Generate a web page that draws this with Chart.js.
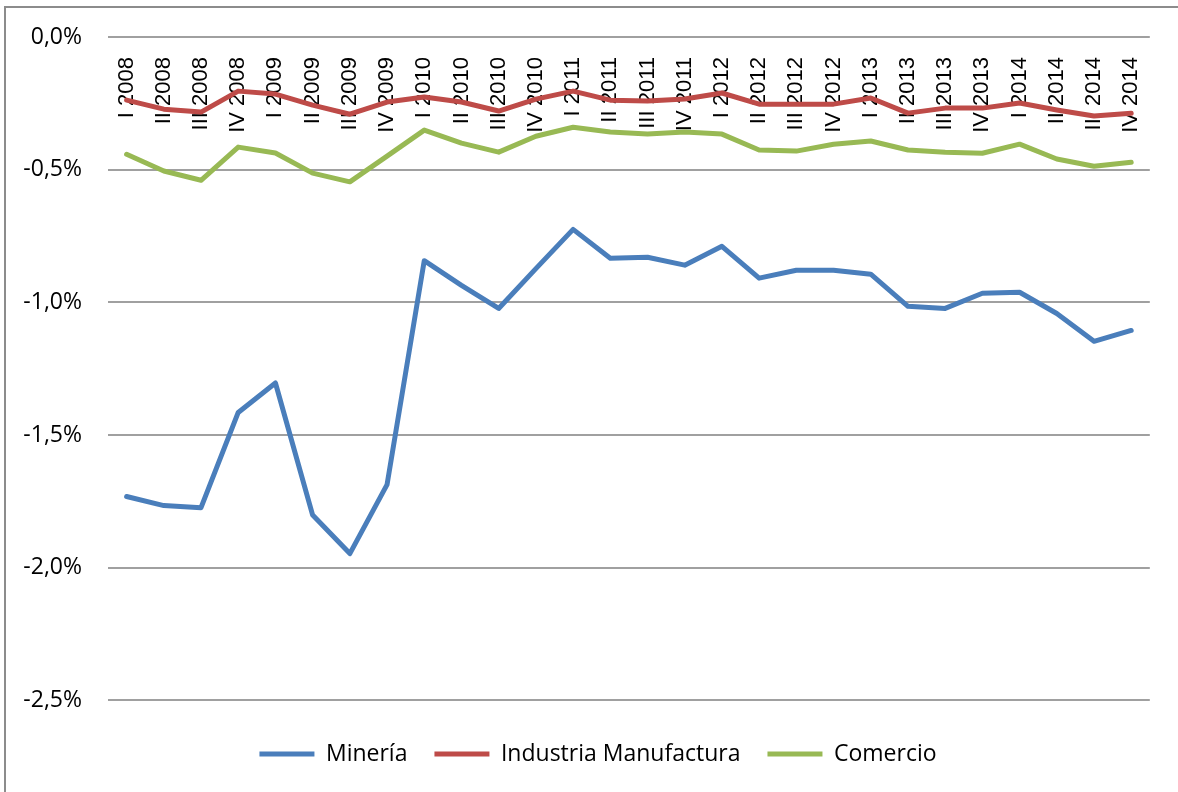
<!DOCTYPE html>
<html>
<head>
<meta charset="utf-8">
<script src="https://cdn.jsdelivr.net/npm/chart.js@4/dist/chart.umd.min.js"></script>
<style>
  html, body { margin: 0; padding: 0; background: #fff; }
  #wrap { width: 1178px; height: 792px; }
</style>
</head>
<body>
<div id="wrap"><canvas id="grafico"></canvas></div>
<script>
// Trimestres
const categorias = [
  "I 2008", "II 2008", "III 2008", "IV 2008",
  "I 2009", "II 2009", "III 2009", "IV 2009",
  "I 2010", "II 2010", "III 2010", "IV 2010",
  "I 2011", "II 2011", "III 2011", "IV 2011",
  "I 2012", "II 2012", "III 2012", "IV 2012",
  "I 2013", "II 2013", "III 2013", "IV 2013",
  "I 2014", "II 2014", "III 2014", "IV 2014"
];

// Series (%)
const mineria = [
  -1.732, -1.766, -1.774, -1.415, -1.304, -1.802, -1.947, -1.687,
  -0.843, -0.936, -1.023, -0.873, -0.725, -0.834, -0.830, -0.860,
  -0.789, -0.909, -0.879, -0.879, -0.894, -1.015, -1.023, -0.966,
  -0.962, -1.042, -1.147, -1.106
];
const industria = [
  -0.238, -0.272, -0.283, -0.204, -0.215, -0.257, -0.291, -0.245,
  -0.226, -0.245, -0.279, -0.234, -0.204, -0.238, -0.241, -0.234,
  -0.211, -0.253, -0.253, -0.253, -0.230, -0.287, -0.268, -0.268,
  -0.249, -0.275, -0.298, -0.287
];
const comercio = [
  -0.442, -0.505, -0.540, -0.415, -0.437, -0.513, -0.546, -0.449,
  -0.351, -0.400, -0.434, -0.374, -0.340, -0.358, -0.366, -0.358,
  -0.366, -0.426, -0.430, -0.404, -0.392, -0.426, -0.434, -0.438,
  -0.404, -0.460, -0.487, -0.472
];

// Marcas del eje Y
const ticksY = [0, -0.5, -1.0, -1.5, -2.0, -2.5];

Chart.defaults.color = "#000";

// Borde exterior del gráfico (solo lados superior e izquierdo visibles)
const bordeExterior = {
  id: "bordeExterior",
  beforeDraw(chart) {
    const ctx = chart.ctx;
    ctx.save();
    ctx.strokeStyle = "#8c8c8c";
    ctx.lineWidth = 2;
    ctx.beginPath();
    ctx.moveTo(5, 792);
    ctx.lineTo(5, 7);
    ctx.lineTo(1178, 7);
    ctx.stroke();
    ctx.restore();
  },
};

const serie = (label, data, color) => ({
  label: label,
  data: data,
  borderColor: color,
  backgroundColor: color,
  borderWidth: 5,
  borderCapStyle: "round",
  borderJoinStyle: "round",
  pointRadius: 0,
  tension: 0,
});

new Chart(document.getElementById("grafico"), {
  type: "line",
  data: {
    labels: categorias,
    datasets: [
      serie("Minería", mineria, "#4a7ebb"),
      serie("Industria Manufactura", industria, "#be4b48"),
      serie("Comercio", comercio, "#98b954"),
    ],
  },
  options: {
    responsive: true,
    maintainAspectRatio: false,
    animation: false,
    layout: { padding: { left: 40, top: 37, right: 22, bottom: 16.5 } },
    plugins: {
      legend: {
        position: "bottom",
        title: { display: true, text: "", font: { size: 1 }, padding: { top: 14, bottom: 0 } },
        labels: {
          font: { family: "'Open Sans'", size: 23 },
          color: "#000",
          usePointStyle: true,
          pointStyle: "line",
          pointStyleWidth: 55,
          padding: 27,
        },
      },
      tooltip: { enabled: false },
    },
    scales: {
      x: {
        type: "category",
        offset: true,
        position: { y: 0 },
        grid: { display: false, drawTicks: false },
        border: { display: false },
        ticks: {
          autoSkip: false,
          minRotation: 90,
          maxRotation: 90,
          padding: 20,
          font: { family: "'Liberation Sans'", size: 22 },
          color: "#000",
        },
      },
      y: {
        min: -2.5,
        max: 0,
        afterFit(scale) {
          scale.width = 68;
          // las etiquetas sobresalen a la izquierda del eje: sin recorte
          scale._computeLabelArea = () => undefined;
        },
        afterBuildTicks(scale) { scale.ticks = ticksY.map((v) => ({ value: v })); },
        grid: { color: "#a0a0a0", lineWidth: 2, drawTicks: true, tickLength: 22, tickColor: "rgba(0,0,0,0)" },
        border: { display: false },
        ticks: {
          padding: 4,
          font: { family: "'Open Sans'", size: 23 },
          color: "#000",
          callback: (v) => v.toFixed(1).replace(".", ",") + "%",
        },
      },
    },
  },
  plugins: [bordeExterior],
});
</script>
</body>
</html>
